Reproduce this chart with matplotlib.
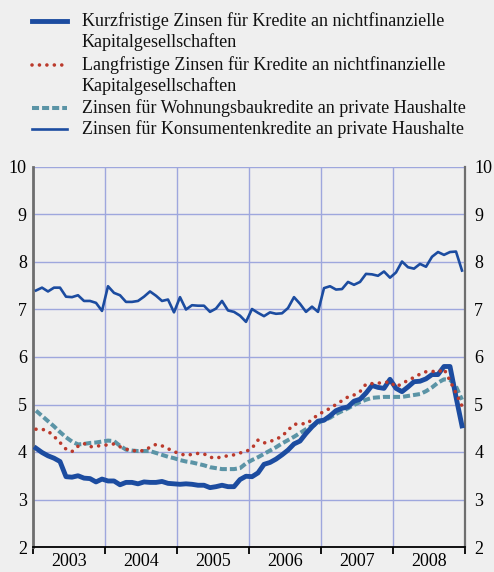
import matplotlib
matplotlib.use("Agg")
import matplotlib.pyplot as plt
from matplotlib.lines import Line2D
import matplotlib.transforms as mtransforms
import numpy as np

plt.rcParams['font.family'] = ['Liberation Serif', 'DejaVu Serif']

years = ["2003", "2004", "2005", "2006", "2007", "2008"]

kurz = [4.08, 3.99, 3.92, 3.87, 3.80, 3.48, 3.47, 3.50, 3.45, 3.44, 3.37, 3.43,
        3.39, 3.39, 3.31, 3.36, 3.36, 3.33, 3.37, 3.36, 3.36, 3.38, 3.34, 3.33,
        3.32, 3.33, 3.32, 3.30, 3.30, 3.25, 3.27, 3.30, 3.27, 3.27, 3.42, 3.49,
        3.48, 3.56, 3.74, 3.78, 3.85, 3.94, 4.04, 4.17, 4.23, 4.39, 4.53, 4.65,
        4.67, 4.76, 4.87, 4.92, 4.95, 5.07, 5.11, 5.24, 5.40, 5.36, 5.34, 5.53,
        5.34, 5.27, 5.37, 5.48, 5.49, 5.54, 5.63, 5.63, 5.80, 5.80, 5.16, 4.55]

lang = [4.48, 4.48, 4.44, 4.33, 4.20, 4.06, 4.01, 4.12, 4.18, 4.11, 4.12, 4.14,
        4.15, 4.17, 4.11, 4.06, 4.03, 4.02, 4.03, 4.10, 4.16, 4.13, 4.07, 4.01,
        3.96, 3.93, 3.95, 3.97, 3.96, 3.89, 3.87, 3.90, 3.92, 3.94, 3.98, 4.01,
        4.08, 4.25, 4.19, 4.22, 4.27, 4.33, 4.46, 4.58, 4.60, 4.59, 4.68, 4.79,
        4.85, 4.92, 5.00, 5.08, 5.16, 5.20, 5.27, 5.43, 5.44, 5.45, 5.46, 5.48,
        5.37, 5.44, 5.51, 5.57, 5.64, 5.69, 5.70, 5.68, 5.75, 5.50, 5.24, 4.97]

wohnung = [4.87, 4.76, 4.65, 4.54, 4.42, 4.31, 4.22, 4.16, 4.17, 4.19, 4.20, 4.22,
           4.24, 4.23, 4.13, 4.05, 4.03, 4.02, 4.02, 4.02, 3.98, 3.94, 3.90, 3.87,
           3.83, 3.80, 3.78, 3.75, 3.72, 3.68, 3.66, 3.64, 3.64, 3.64, 3.66, 3.76,
           3.83, 3.89, 3.96, 4.03, 4.10, 4.18, 4.25, 4.32, 4.40, 4.48, 4.55, 4.61,
           4.67, 4.72, 4.80, 4.86, 4.92, 4.99, 5.05, 5.10, 5.14, 5.15, 5.16, 5.16,
           5.16, 5.16, 5.18, 5.20, 5.22, 5.28, 5.36, 5.46, 5.53, 5.52, 5.38, 5.10]

konsum = [7.40, 7.46, 7.38, 7.46, 7.46, 7.27, 7.26, 7.30, 7.18, 7.18, 7.14, 6.97,
          7.49, 7.35, 7.30, 7.16, 7.16, 7.18, 7.27, 7.38, 7.29, 7.18, 7.21, 6.94,
          7.26, 7.00, 7.09, 7.08, 7.08, 6.95, 7.02, 7.18, 6.98, 6.95, 6.87, 6.74,
          7.01, 6.93, 6.86, 6.94, 6.91, 6.92, 7.03, 7.26, 7.12, 6.95, 7.06, 6.95,
          7.45, 7.49, 7.42, 7.43, 7.58, 7.52, 7.58, 7.75, 7.74, 7.71, 7.80, 7.67,
          7.78, 8.01, 7.89, 7.86, 7.96, 7.90, 8.11, 8.21, 8.15, 8.21, 8.22, 7.82]

labels = [
    ["Kurzfristige Zinsen für Kredite an nichtfinanzielle", "Kapitalgesellschaften"],
    ["Langfristige Zinsen für Kredite an nichtfinanzielle", "Kapitalgesellschaften"],
    ["Zinsen für Wohnungsbaukredite an private Haushalte"],
    ["Zinsen für Konsumentenkredite an private Haushalte"],
]

BG = "#efefef"
BLUE = "#1c4ca0"
RED = "#bb3a2c"
TEAL = "#5b94a6"
GRID = "#9ea7dd"
SPINE = "#6e6e6e"
FS = 13

W, H = 494, 572
fig = plt.figure(figsize=(W / 100, H / 100), dpi=100, facecolor=BG)
ax = fig.add_axes([33 / W, (H - 547) / H, 432 / W, 380 / H], facecolor=BG)

x = np.arange(len(kurz)) + 0.5

styles = [
    dict(color=BLUE, lw=3.5, solid_joinstyle="round"),
    dict(color=RED, lw=2.6, linestyle=(0, (0.01, 2.05)), dash_capstyle="round"),
    dict(color=TEAL, lw=2.9, linestyle=(0, (1.75, 0.75)), dash_capstyle="butt"),
    dict(color=BLUE, lw=1.9, solid_joinstyle="round"),
]

ax.plot(x, konsum, zorder=3, **styles[3])
ax.plot(x, wohnung, zorder=3, **styles[2])
ax.plot(x, kurz, zorder=4, **styles[0])
ax.plot(x, lang, zorder=5, **styles[1])

ax.set_xlim(0, 72)
ax.set_ylim(2, 10)

ax.set_yticks(range(2, 11))
ax.tick_params(axis="y", which="both", length=0, labelsize=FS, pad=4.5,
               labelleft=True, labelright=True, left=False, right=False)

ax.set_xticks(np.arange(0, 73, 12))
ax.set_xticks(np.arange(6, 72, 12), minor=True)
ax.set_xticklabels([])
ax.set_xticklabels(years, minor=True)
ax.tick_params(axis="x", which="major", length=5, width=1.3, color="black", direction="out")
ax.tick_params(axis="x", which="minor", length=0, labelsize=FS, pad=4)

ax.grid(True, which="major", color=GRID, lw=1.0, zorder=1)
ax.set_axisbelow(True)

ax.spines["top"].set_visible(False)
ax.spines["left"].set_color(SPINE)
ax.spines["left"].set_linewidth(2.0)
ax.spines["right"].set_color(SPINE)
ax.spines["right"].set_linewidth(1.6)
ax.spines["bottom"].set_color("black")
ax.spines["bottom"].set_linewidth(1.3)

fig.canvas.draw()
offset = mtransforms.ScaledTranslation(3 / 100, 0, fig.dpi_scale_trans)
for t in ax.yaxis.get_major_ticks():
    t.label2.set_transform(t.label2.get_transform() + offset)

# legend
rows = [21, 65, 108, 129]
for (lab, st, yrow) in zip(labels, styles, rows):
    yf = 1 - yrow / H
    fig.add_artist(Line2D([32 / W, 67 / W], [yf, yf], transform=fig.transFigure, **st))
    for k, line in enumerate(lab):
        fig.text(82 / W, 1 - (yrow + 21.5 * k) / H, line, fontsize=FS,
                 va="center", ha="left", color="#111111")

fig.savefig("out.png", dpi=100, facecolor=BG)
